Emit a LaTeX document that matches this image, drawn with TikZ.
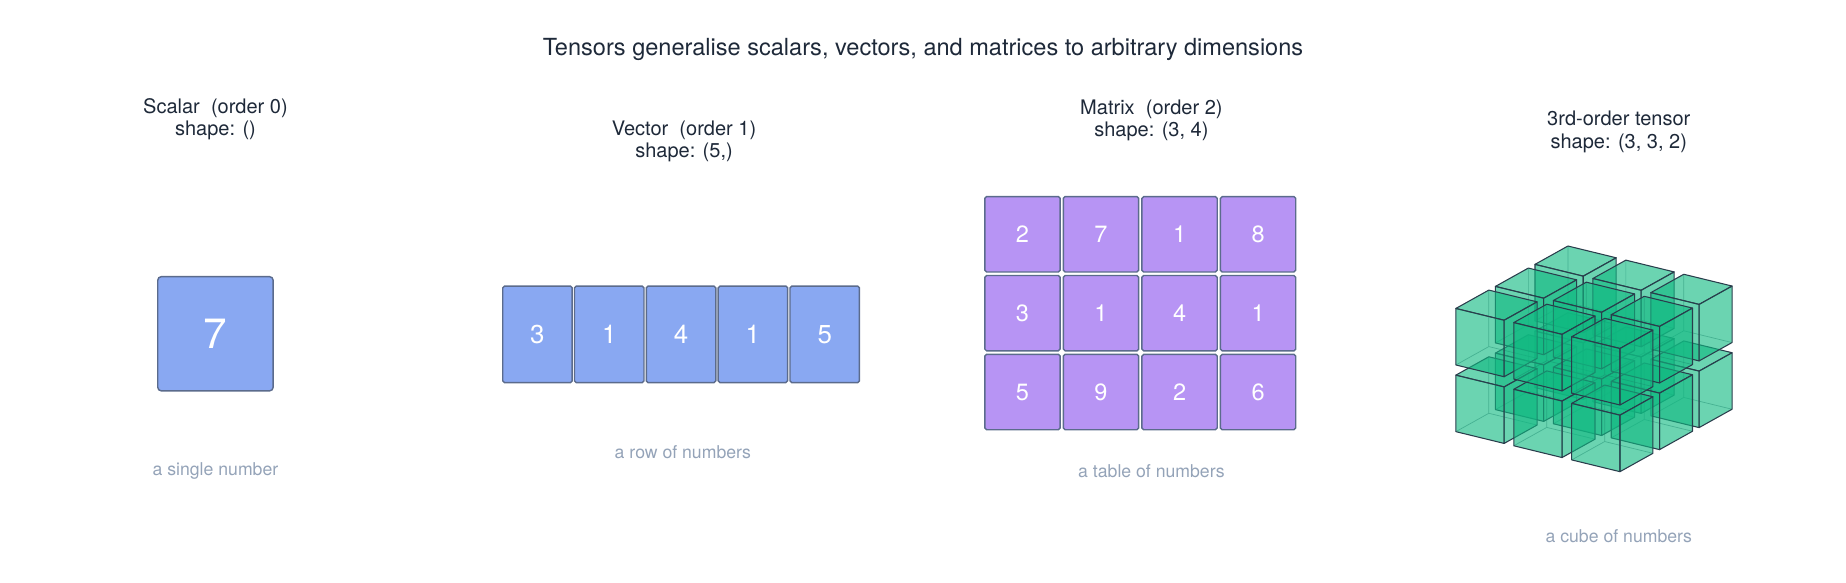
\documentclass[tikz,border=0pt]{standalone}
\usepackage{fontspec}
\setmainfont{TeX Gyre Heros}
\begin{document}
\begin{tikzpicture}[x=1pt,y=-1pt,
  txt/.style={text=ink,align=center,font=\fontsize{17}{19}\selectfont},
  captxt/.style={text=gray1,font=\fontsize{15}{17}\selectfont},
  bcell/.style={draw=edge,fill=blue1,line width=1.2pt,rounded corners=1.5pt,text=white,font=\fontsize{22}{24}\selectfont},
  pcell/.style={draw=edge,fill=purp,line width=1.2pt,rounded corners=1.5pt,text=white,font=\fontsize{20}{22}\selectfont},
  cubeface/.style={fill=emer,fill opacity=0.62,draw=cedge,line width=0.9pt,line join=round}]
\definecolor{ink}{HTML}{1E2939}
\definecolor{gray1}{HTML}{94A3B8}
\definecolor{edge}{HTML}{5B6B8C}
\definecolor{blue1}{HTML}{89A8F2}
\definecolor{purp}{HTML}{B794F4}
\definecolor{emer}{HTML}{10B981}
\definecolor{cedge}{HTML}{2A3D4C}
\useasboundingbox (0,0) rectangle (1568,495);
\node[txt,font=\fontsize{20}{22}\selectfont] (title) at (784,42) {Tensors generalise scalars, vectors, and matrices to arbitrary dimensions};
% scalar
\node[txt] (hs) at (183,101) {Scalar\ \ (order 0)\\shape: ()};
\node[bcell,minimum width=98pt,minimum height=97pt,font=\fontsize{36}{38}\selectfont,rounded corners=3pt] (s) at (183,283.5) {7};
\node[captxt] (cs) at (183,400) {a single number};
% vector
\node[txt] (hv) at (581,120) {Vector\ \ (order 1)\\shape: (5,)};
\foreach \v [count=\n from 0] in {3,1,4,1,5}
  \node[bcell,minimum width=59pt,minimum height=82pt] (v\n) at (456.5+61*\n,284) {\v};
\node[captxt] (cv) at (580,384) {a row of numbers};
% matrix
\node[txt] (hm) at (978,102) {Matrix\ \ (order 2)\\shape: (3, 4)};
\foreach \row [count=\r from 0] in {{2,7,1,8},{3,1,4,1},{5,9,2,6}}
  \foreach \v [count=\c from 0] in \row
    \node[pcell,minimum width=64pt,minimum height=64pt] (m\r\c) at (868.5+66.7*\c,199+67*\r) {\v};
\node[captxt] (cm) at (978,400) {a table of numbers};
% tensor
\node[txt] (ht) at (1375,112) {3rd-order tensor\\shape: (3, 3, 2)};
\node[captxt] (ct) at (1375,455) {a cube of numbers};
\foreach \k in {1,0}
 \foreach \j in {2,1,0}
  \foreach \i in {0,1,2} {
   \pgfmathsetmacro\ox{1335+(\i-2)*1.2*41+\j*1.2*28}
   \pgfmathsetmacro\oy{-(286+(\i-2)*1.2*10-\j*1.2*15.6+\k*1.18*48)}
   \begin{scope}[shift={(\ox pt,\oy pt)},x={(41pt,-10pt)},y={(28pt,15.6pt)},z={(0pt,-48pt)}]
     \draw[cedge,line width=0.6pt,opacity=0.45] (0,1,1) -- (0,0,1) (0,1,1) -- (1,1,1) (0,1,1) -- (0,1,0);
     \draw[cubeface] (0,0,0) -- (1,0,0) -- (1,1,0) -- (0,1,0) -- cycle;
     \draw[cubeface] (0,0,0) -- (1,0,0) -- (1,0,1) -- (0,0,1) -- cycle;
     \draw[cubeface] (1,0,0) -- (1,1,0) -- (1,1,1) -- (1,0,1) -- cycle;
   \end{scope}
  }
\end{tikzpicture}
\end{document}
